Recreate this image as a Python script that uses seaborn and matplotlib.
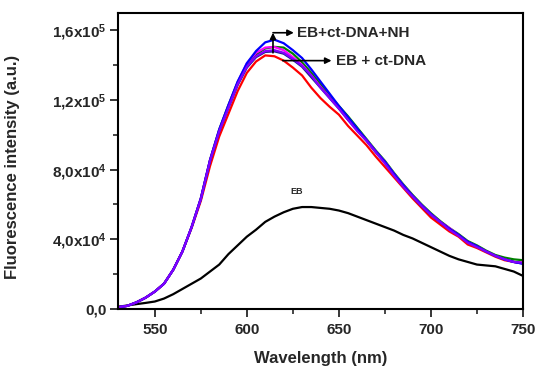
import matplotlib
matplotlib.use("Agg")
import matplotlib.pyplot as plt
from matplotlib.ticker import MultipleLocator
import numpy as np
import pandas as pd
import seaborn as sns

# Emission spectra (excitation of ethidium bromide), intensity in counts
wavelength = [530, 535, 540, 545, 550, 555, 560, 565, 570, 575, 580, 585, 590, 595,
              600, 605, 610, 615, 620, 625, 630, 635, 640, 645, 650, 655, 660, 665,
              670, 675, 680, 685, 690, 695, 700, 705, 710, 715, 720, 725, 730, 735,
              740, 745, 750]

eb = [1300, 2000, 2800, 3500, 4300, 6000, 8500, 11500, 14500, 17500, 21500, 25500, 31500, 36500,
      41500, 45500, 50000, 53000, 55500, 57500, 58500, 58500, 58000, 57500, 56500, 55000, 53000, 51000,
      49000, 47000, 45000, 42500, 40500, 38000, 35500, 33000, 30500, 28500, 27000, 25500, 25000, 24500,
      23000, 21500, 19000]

red = [1000, 1800, 3800, 6500, 10000, 14500, 22500, 33000, 46500, 62000, 82000, 99000, 112000, 125000,
       135500, 142000, 145500, 145000, 142500, 138500, 134000, 127000, 121000, 116000, 111500, 105000, 99500, 94000,
       87500, 81500, 75500, 69500, 63500, 58000, 52500, 48500, 44500, 41500, 37000, 35000, 32500, 30000,
       28000, 27000, 26500]

green = [1000, 1800, 3800, 6500, 10000, 14500, 22500, 33000, 47000, 63500, 85500, 103000, 117000, 130000,
         140000, 146000, 149500, 150400, 150000, 146500, 141500, 135500, 129000, 122500, 116500, 110500, 104000, 97500,
         91000, 85000, 78000, 71500, 65500, 60000, 55000, 50500, 46500, 43000, 39000, 36500, 33500, 31000,
         29500, 28500, 28000]

magenta = [1000, 1800, 3800, 6500, 10000, 14500, 22500, 33000, 47000, 63500, 85500, 102500, 116500, 130000,
           141000, 147000, 150000, 150300, 148500, 144500, 140000, 134000, 127500, 121500, 115500, 109000, 103000, 97000,
           90500, 84500, 77500, 71000, 65000, 59500, 54500, 50000, 46500, 42500, 38500, 36000, 33000, 30500,
           28500, 27000, 26500]

navy = [1000, 1800, 3800, 6500, 10000, 14500, 22500, 33000, 47000, 63000, 85000, 102000, 115500, 128500,
        138500, 144500, 147500, 147800, 146500, 143000, 139000, 133000, 127000, 121000, 115000, 108500, 102500, 96500,
        90000, 84000, 77000, 70500, 64500, 59000, 54000, 50000, 46000, 42500, 38500, 36000, 33000, 30500,
        28500, 27000, 26000]

blue = [1000, 1800, 3800, 6500, 10000, 14500, 22500, 33000, 47000, 63500, 85500, 103000, 117000, 130500,
        141000, 148000, 153000, 154500, 152500, 148500, 144000, 137500, 130500, 123500, 116500, 110000, 103500, 97000,
        90500, 84500, 77500, 71000, 65000, 59500, 54500, 50000, 46000, 42500, 38500, 36000, 33000, 30500,
        28500, 27000, 26000]

purple = [1000, 1800, 3800, 6500, 10000, 14500, 22500, 33000, 47000, 63000, 85000, 102000, 115500, 129000,
          139000, 145000, 148000, 148500, 147000, 143500, 139500, 134000, 127000, 121000, 115000, 108500, 102000, 96500,
          90000, 83500, 76500, 70000, 64500, 59000, 54000, 50000, 45500, 42000, 38000, 35500, 33000, 30500,
          28500, 27000, 26500]

series = {"EB": eb, "s1": red, "s2": green, "s3": magenta, "s4": navy, "s5": blue, "s6": purple}
colors = {"EB": "#000000", "s1": "#ff0000", "s2": "#008000", "s3": "#ff00ff",
          "s4": "#1a1a8c", "s5": "#0000ff", "s6": "#8000ff"}

y_ticks = [0, 40000, 80000, 120000, 160000]
y_ticklabels = ["0,0", "4,0x10$^{4}$", "8,0x10$^{4}$", "1,2x10$^{5}$", "1,6x10$^{5}$"]
x_ticks = [550, 600, 650, 700, 750]

frames = [pd.DataFrame({"wavelength": wavelength, "intensity": v, "sample": k})
          for k, v in series.items()]
df = pd.concat(frames, ignore_index=True)

sns.set_style("ticks")
plt.rcParams["font.family"] = ["Liberation Sans", "DejaVu Sans"]
plt.rcParams["mathtext.fontset"] = "custom"
plt.rcParams["mathtext.rm"] = "Liberation Sans:bold"
plt.rcParams["mathtext.it"] = "Liberation Sans:bold"
plt.rcParams["mathtext.bf"] = "Liberation Sans:bold"

fig = plt.figure(figsize=(5.37, 3.66), dpi=100)
ax = fig.add_axes([0.2197, 0.1557, 0.7542, 0.8096])

sns.lineplot(data=df, x="wavelength", y="intensity", hue="sample",
             hue_order=list(series.keys()), palette=colors, sort=False,
             linewidth=1.6, legend=False, ax=ax)

ax.set_xlim(530, 750)
ax.set_ylim(0, 170000)
ax.set_xticks(x_ticks)
ax.set_xticklabels([str(t) for t in x_ticks], fontsize=11, fontweight="bold")
ax.set_yticks(y_ticks)
ax.set_yticklabels(y_ticklabels, fontsize=11, fontweight="bold")
ax.xaxis.set_minor_locator(MultipleLocator(25))
ax.yaxis.set_minor_locator(MultipleLocator(20000))
ax.tick_params(which="major", direction="out", length=6, width=1.3, pad=4)
ax.tick_params(which="minor", direction="out", length=3.5, width=1.2)
ax.tick_params(axis="y", pad=2)
ax.tick_params(top=False, right=False, which="both")
for sp in ax.spines.values():
    sp.set_visible(True)
    sp.set_linewidth(1.5)
    sp.set_color("black")

ax.set_xlabel("Wavelength (nm)", fontsize=12, fontweight="bold")
ax.xaxis.set_label_coords(0.5, -0.142)
ax.set_ylabel("Fluorescence intensity (a.u.)", fontsize=12, fontweight="bold")
ax.yaxis.set_label_coords(-0.242, 0.48)

arrow = dict(arrowstyle="-|>", color="black", lw=1.2, mutation_scale=9,
             shrinkA=0, shrinkB=0)
ax.annotate("", xy=(614.2, 158500), xytext=(614.2, 147000), arrowprops=arrow)
ax.annotate("", xy=(625.5, 158500), xytext=(614.2, 158500), arrowprops=arrow)
ax.text(627.5, 158300, "EB+ct-DNA+NH", fontsize=11, fontweight="bold",
        va="center", ha="left")
ax.annotate("", xy=(646.0, 142500), xytext=(619.5, 142500), arrowprops=arrow)
ax.text(648.5, 142300, "EB + ct-DNA", fontsize=11, fontweight="bold",
        va="center", ha="left")
ax.text(627, 67500, "EB", fontsize=6.5, fontweight="bold", va="center", ha="center")

fig.savefig("out.png", dpi=100)
